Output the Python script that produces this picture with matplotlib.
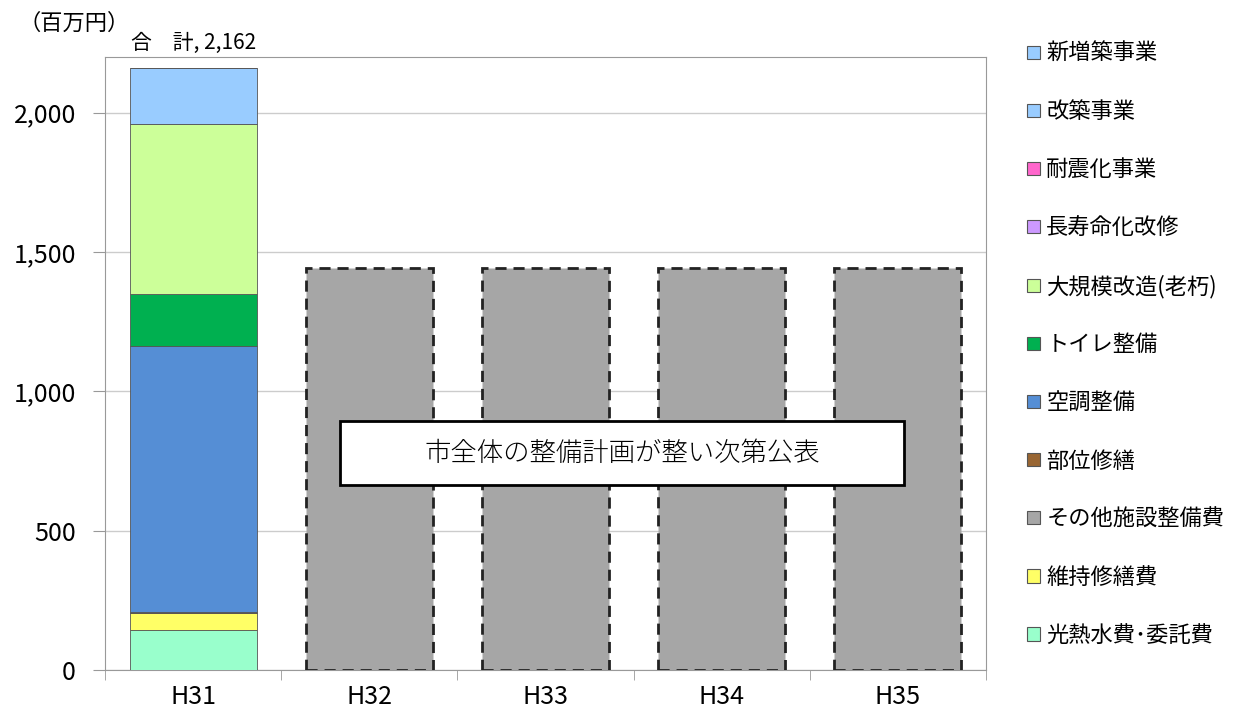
import numpy as np
import matplotlib.pyplot as plt
from matplotlib.patches import Rectangle

plt.rcParams['font.family'] = ['Noto Sans CJK JP', 'DejaVu Sans']

# 年度と費目（積み上げは下から順）
years = ['H31', 'H32', 'H33', 'H34', 'H35']
items = ['光熱水費･委託費', '維持修繕費', 'その他施設整備費', '部位修繕', '空調整備',
         'トイレ整備', '大規模改造(老朽)', '長寿命化改修', '耐震化事業', '改築事業', '新増築事業']
colors = ['#99FFCC', '#FFFF66', '#A6A6A6', '#996633', '#558ED5',
          '#00B050', '#CCFF99', '#CC99FF', '#FF66CC', '#99CCFF', '#99CCFF']

# H31 の費目別内訳（百万円）
h31 = [144, 61, 0, 4, 955, 187, 607, 0, 0, 204, 0]
# H32〜H35 は未公表（その他施設整備費として表示）
later = [1443, 1443, 1443, 1443]
total_h31 = 2162
yticks = [0, 500, 1000, 1500, 2000]

fig = plt.figure(figsize=(12.36, 7.13), dpi=100)
ax = fig.add_axes([0.085, 0.0603, 0.7127, 0.8597])

x = np.arange(len(years))
width = 0.72

bottom = 0
for name, v, c in zip(items, h31, colors):
    ax.bar(x[0], v, width, bottom=bottom, color=c, edgecolor='#555555',
           linewidth=0.6, zorder=3)
    bottom += v

ax.bar(x[1:], later, width, color='#A6A6A6', edgecolor='#222222',
       linewidth=2, linestyle=(0, (4, 2.5)), zorder=3)

ax.text(x[0], total_h31 + 50, '合\u3000計, {:,}'.format(total_h31),
        ha='center', va='bottom', fontsize=15)

ax.set_xlim(-0.5, len(years) - 0.5)
ax.set_ylim(0, 2200)
ax.set_yticks(yticks)
ax.set_yticklabels(['{:,}'.format(v) for v in yticks], fontsize=18)
ax.set_xticks(x)
ax.set_xticklabels(years, fontsize=18)
ax.set_xticks(np.arange(len(years) + 1) - 0.5, minor=True)
ax.tick_params(axis='x', which='major', length=0, pad=10)
ax.tick_params(axis='x', which='minor', length=7, color='#999999')
ax.tick_params(axis='y', length=9, color='#999999', pad=12)
ax.grid(axis='y', color='#CCCCCC', linewidth=1, zorder=0)
for s in ax.spines.values():
    s.set_color('#999999')

fig.text(0.015, 0.967, '（百万円）', fontsize=16, va='center')

# 注記ボックス
ax.add_patch(Rectangle((0.835, 665), 3.2, 230, facecolor='white',
                       edgecolor='black', linewidth=2, zorder=4))
ax.text(0.835 + 1.6, 780, '市全体の整備計画が整い次第公表',
        ha='center', va='center', fontsize=19, fontweight='light', zorder=5)

# 凡例（上から逆順）
handles = [Rectangle((0, 0), 1, 1, facecolor=c, edgecolor='#555555', linewidth=0.8)
           for c in colors[::-1]]
fig.legend(handles, items[::-1], loc='upper left', bbox_to_anchor=(0.815, 0.969),
           frameon=False, fontsize=16, handlelength=0.55, handleheight=0.55,
           handletextpad=0.3, labelspacing=1.58)

fig.savefig('out.png', dpi=100)
